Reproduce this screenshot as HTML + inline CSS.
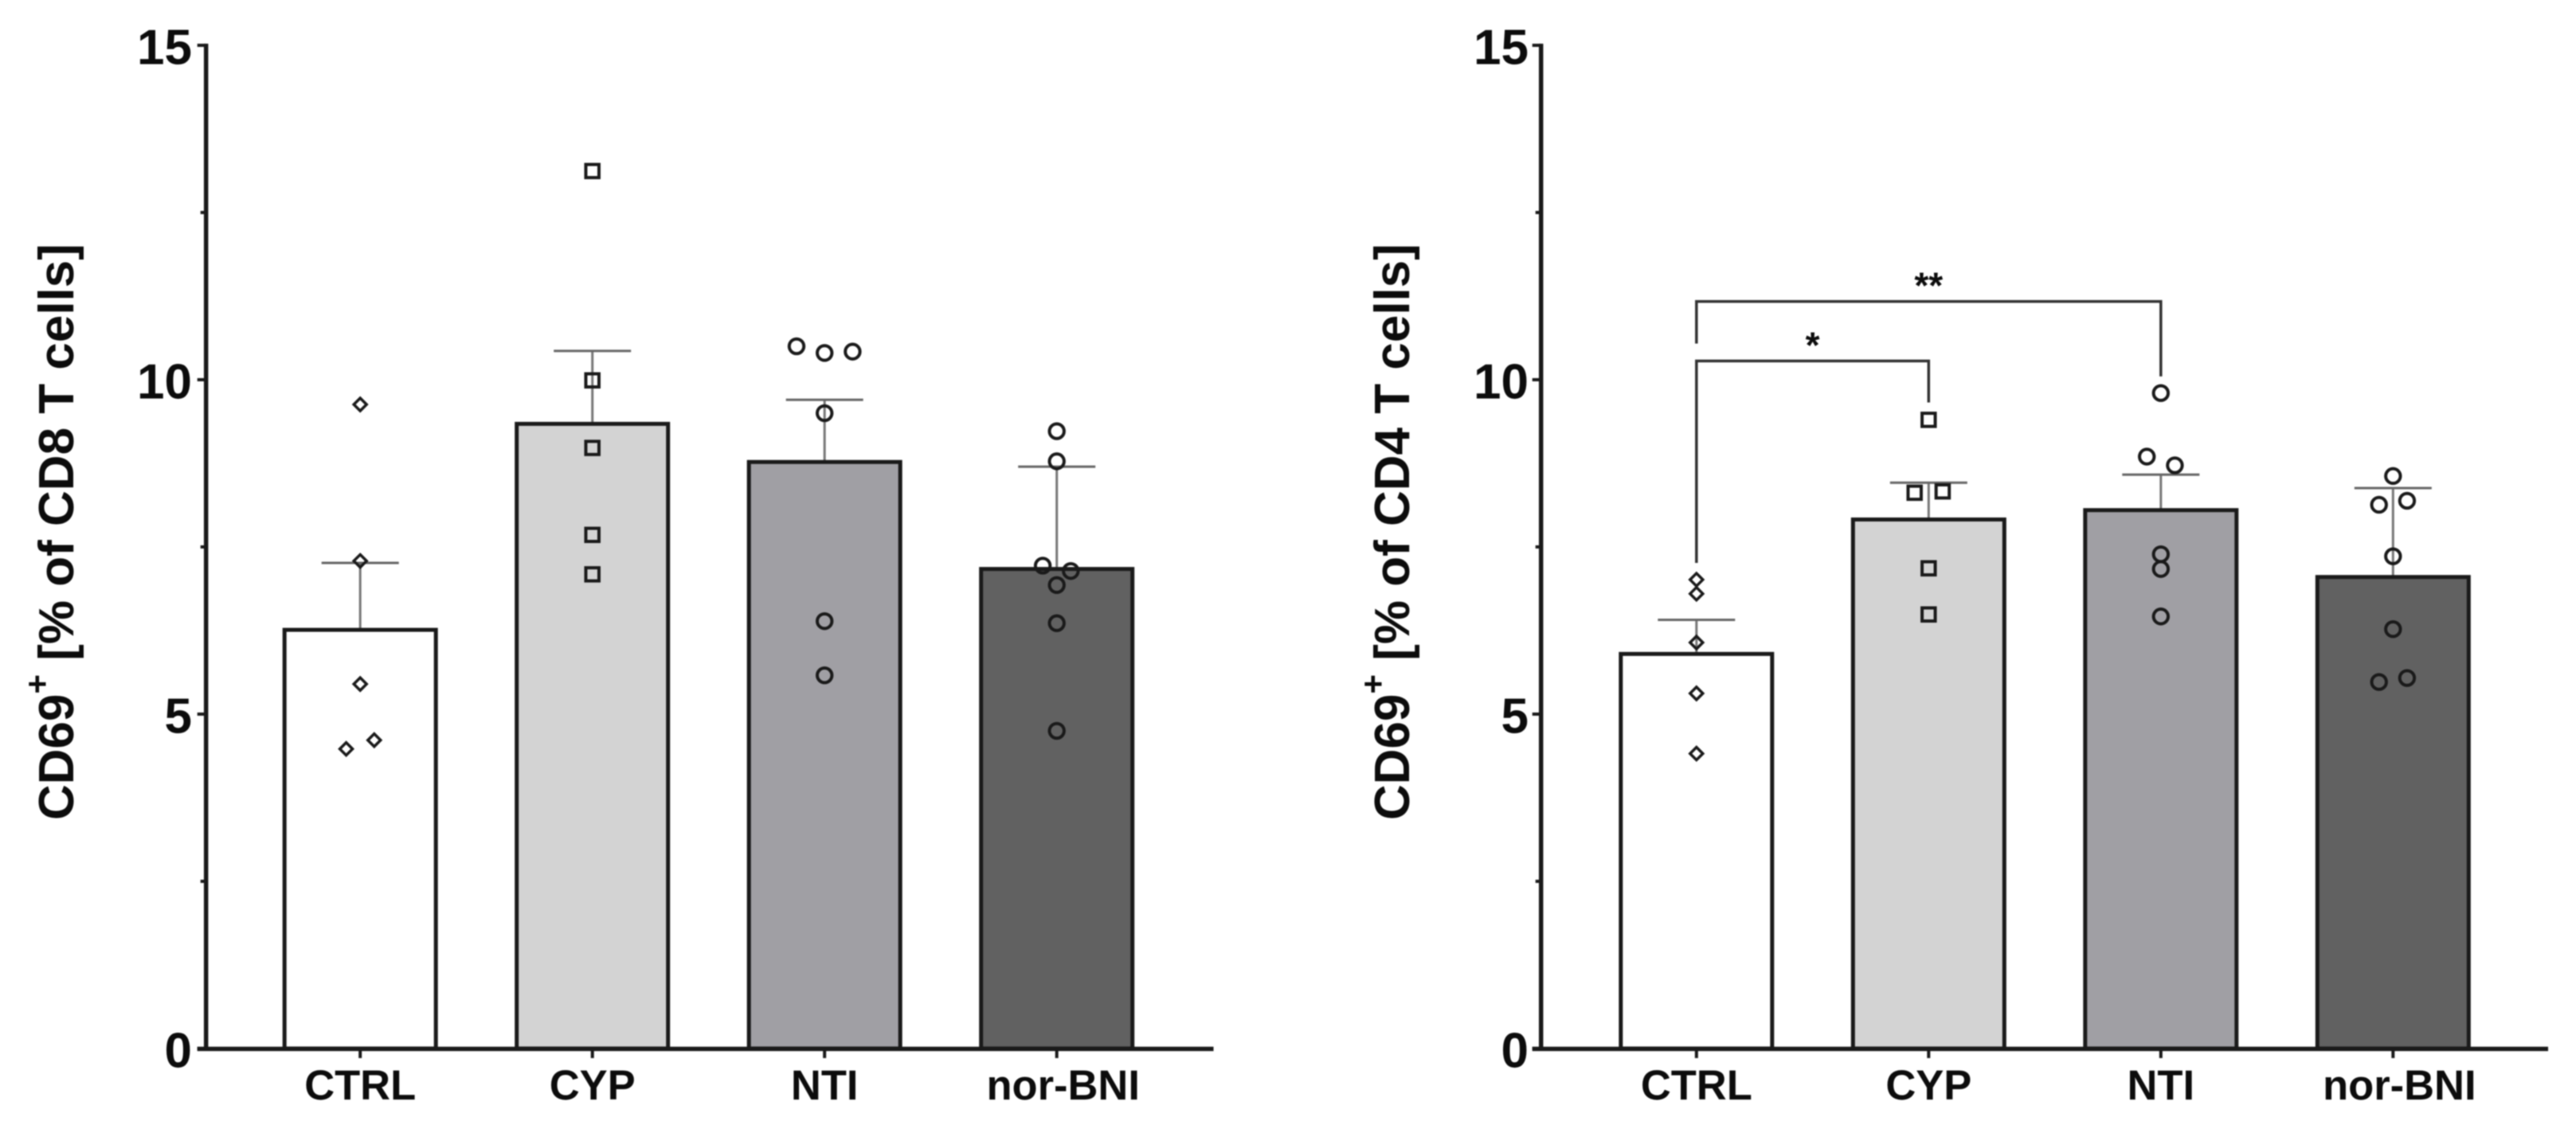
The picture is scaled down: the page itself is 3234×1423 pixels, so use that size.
<!DOCTYPE html>
<html lang="en">
<head>
<meta charset="utf-8">
<title>CD69+ T cells bar charts</title>
<style>
  html, body { margin: 0; padding: 0; background: #fff; width: 3234px; height: 1423px; overflow: hidden; }
  svg { display: block; filter: blur(0.9px); }
  text { font-family: "Liberation Sans", Arial, sans-serif; font-weight: 700; fill: #0c0c0c; }
</style>
</head>
<body>
<svg id="figure" xmlns="http://www.w3.org/2000/svg" width="3234" height="1423" viewBox="0 0 3234 1423">
  <rect x="0" y="0" width="3234" height="1423" fill="#ffffff"/>
  <text transform="translate(92,1030) rotate(-90)" font-size="62">CD69<tspan dy="-31" font-size="42">+</tspan><tspan dy="31"> [% of CD8 T cells]</tspan></text>
  <text transform="translate(1769,1030) rotate(-90)" font-size="62">CD69<tspan dy="-31" font-size="42">+</tspan><tspan dy="31"> [% of CD4 T cells]</tspan></text>
</svg>
<script>
// Shared axis data
const categories = ['CTRL', 'CYP', 'NTI', 'nor-BNI'];
const yMajorTicks = [0, 5, 10, 15];
const yMinorTicks = [2.5, 7.5, 12.5];
const barFills = ['#ffffff', '#d3d3d3', '#a09fa4', '#616161'];
const markerShapes = ['diamond', 'square', 'circle', 'circle'];

// CD8 panel data
const cd8Means = [6.26, 9.34, 8.77, 7.17];
const cd8Errors = [7.26, 10.43, 9.70, 8.70];
const cd8Points = [
  [9.63, 7.29, 5.45, 4.61, 4.48],
  [13.12, 9.99, 8.98, 7.68, 7.09],
  [10.50, 10.40, 10.42, 9.50, 6.39, 5.58],
  [9.23, 8.78, 7.22, 7.14, 6.93, 6.36, 4.75]
];
const cd8Slots = [
  [0, 0, 0, 1, -1],
  [0, 0, 0, 0, 0],
  [-2, 0, 2, 0, 0, 0],
  [0, 0, -1, 1, 0, 0, 0]
];

// CD4 panel data
const cd4Means = [5.90, 7.91, 8.05, 7.05];
const cd4Errors = [6.41, 8.46, 8.58, 8.38];
const cd4Points = [
  [7.01, 6.80, 6.07, 5.31, 4.41],
  [9.40, 8.31, 8.33, 7.18, 6.49],
  [9.80, 8.85, 8.72, 7.39, 7.17, 6.46],
  [8.56, 8.13, 8.19, 7.36, 6.27, 5.48, 5.54]
];
const cd4Slots = [
  [0, 0, 0, 0, 0],
  [0, -1, 1, 0, 0],
  [0, -1, 1, 0, 0, 0],
  [0, -1, 1, 0, 0, -1, 1]
];

// CD4 significance brackets
const sigLabels = ['*', '**'];
const sigFrom = [0, 0];
const sigTo = [1, 2];
const sigTops = [10.28, 11.17];
const sigLeftEnds = [7.26, 10.54];
const sigRightEnds = [9.66, 10.05];

const NS = 'http://www.w3.org/2000/svg';
const INK = '#1a1a1a';
const root = document.getElementById('figure');

function yScale(v) {
  return 1316.9 - v * 84;
}

function shape(tag, parent, attrs) {
  const el = document.createElementNS(NS, tag);
  for (const k in attrs) el.setAttribute(k, attrs[k]);
  parent.appendChild(el);
  return el;
}

function drawPanel(panelName, axisX, firstX, axisEnd, labelRight, means, errors, points, slots) {
  const step = 291.5;
  const halfBar = 95;
  const halfCap = 48.5;
  const slotWidth = 17.6;
  const xScale = function (i) { return firstX + step * i; };

  const g = shape('g', root, {});
  
  

  categories.forEach(function (cat, i) {
    const cx = xScale(i);

    const err = shape('line', g, { x1: cx, x2: cx, y1: yScale(means[i]), y2: yScale(errors[i]), stroke: '#777777', 'stroke-width': 3 });
    
    

    const cap = shape('line', g, { x1: cx - halfCap, x2: cx + halfCap, y1: yScale(errors[i]), y2: yScale(errors[i]), stroke: '#666666', 'stroke-width': 3 });
    
    

    const bar = shape('rect', g, { x: cx - halfBar, y: yScale(means[i]), width: halfBar * 2, height: yScale(0) - yScale(means[i]), fill: barFills[i], stroke: INK, 'stroke-width': 5 });
    
    
  });

  const yAxis = shape('line', g, { x1: axisX, x2: axisX, y1: yScale(15) - 2, y2: yScale(0) + 2, stroke: INK, 'stroke-width': 5.5 });
  
  

  const xAxis = shape('line', g, { x1: axisX - 11, x2: axisEnd, y1: yScale(0) + 0.5, y2: yScale(0) + 0.5, stroke: INK, 'stroke-width': 5.5 });
  
  

  yMajorTicks.forEach(function (v) {
    const tick = shape('line', g, { x1: axisX - 11, x2: axisX, y1: yScale(v), y2: yScale(v), stroke: INK, 'stroke-width': 4 });
    
    

    const label = shape('text', g, { x: labelRight, y: yScale(v) + 23.5, 'text-anchor': 'end', 'font-size': 62 });
    label.textContent = String(v);
    
    
  });

  yMinorTicks.forEach(function (v) {
    const minor = shape('line', g, { x1: axisX - 7, x2: axisX, y1: yScale(v), y2: yScale(v), stroke: INK, 'stroke-width': 4 });
    
    
  });

  categories.forEach(function (cat, i) {
    const cx = xScale(i);

    const tick = shape('line', g, { x1: cx, x2: cx, y1: yScale(0), y2: yScale(0) + 12, stroke: INK, 'stroke-width': 4 });
    
    

    const nudge = cat === 'nor-BNI' ? 8 : 0;
    const label = shape('text', g, { x: cx + nudge, y: 1381, 'text-anchor': 'middle', 'font-size': 52.5 });
    label.textContent = cat;
    
    

    points[i].forEach(function (v, j) {
      const px = cx + slots[i][j] * slotWidth;
      const py = yScale(v);
      let mark;
      if (markerShapes[i] === 'diamond') {
        const d = 8;
        mark = shape('polygon', g, { points: px + ',' + (py - d) + ' ' + (px + d) + ',' + py + ' ' + px + ',' + (py + d) + ' ' + (px - d) + ',' + py, fill: 'none', stroke: INK, 'stroke-width': 3.5 });
      } else if (markerShapes[i] === 'square') {
        mark = shape('rect', g, { x: px - 8.25, y: py - 8.25, width: 16.5, height: 16.5, fill: 'none', stroke: INK, 'stroke-width': 4 });
      } else {
        mark = shape('circle', g, { cx: px, cy: py, r: 9.2, fill: 'none', stroke: INK, 'stroke-width': 4 });
      }
      
      
    });
  });

  return xScale;
}

drawPanel('cd8', 258.7, 452.2, 1523.5, 241, cd8Means, cd8Errors, cd8Points, cd8Slots);
const cd4X = drawPanel('cd4', 1934.7, 2129.8, 3199, 1919, cd4Means, cd4Errors, cd4Points, cd4Slots);

sigLabels.forEach(function (txt, i) {
  const x1 = cd4X(sigFrom[i]);
  const x2 = cd4X(sigTo[i]);
  const top = yScale(sigTops[i]);

  const bracket = shape('polyline', root, {
    points: x1 + ',' + yScale(sigLeftEnds[i]) + ' ' + x1 + ',' + top + ' ' + x2 + ',' + top + ' ' + x2 + ',' + yScale(sigRightEnds[i]),
    fill: 'none', stroke: '#333333', 'stroke-width': 3.5
  });
  
  

  const star = shape('text', root, { x: (x1 + x2) / 2, y: top - 4, 'text-anchor': 'middle', 'font-size': 46 });
  star.textContent = txt;
  
  
});
</script>
</body>
</html>
